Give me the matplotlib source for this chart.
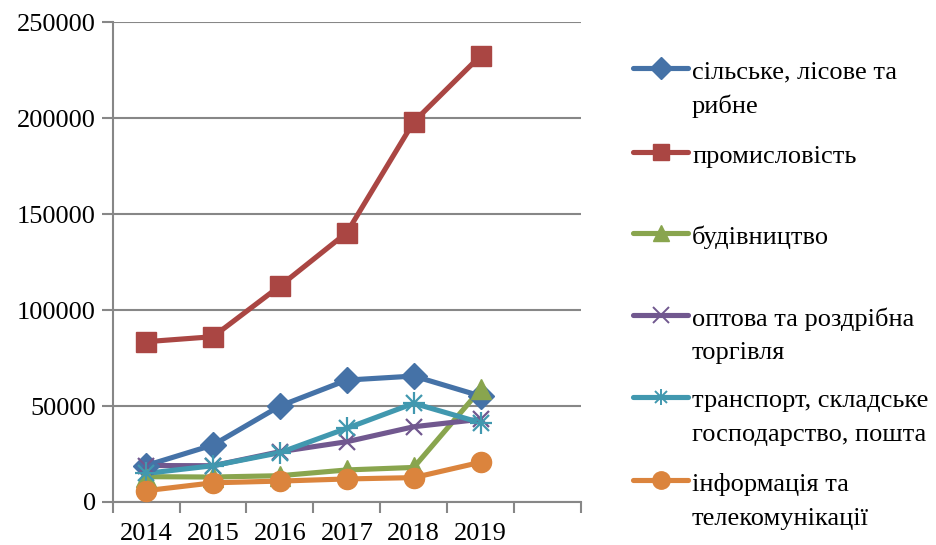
import matplotlib
matplotlib.use("Agg")
import matplotlib.pyplot as plt
from matplotlib.lines import Line2D

# Дані
years = ["2014", "2015", "2016", "2017", "2018", "2019"]
silske = [19000, 29700, 50000, 63500, 65600, 55200]
promyslovist = [83500, 86100, 112500, 140300, 198000, 232500]
budivnytstvo = [13200, 13000, 13700, 16700, 18000, 58700]
optova = [19000, 18900, 26200, 31400, 39200, 43100]
transport = [14900, 18900, 25700, 38400, 51400, 41300]
informatsiia = [5900, 10000, 10900, 12000, 12700, 20700]

labels = ["сільське, лісове та\nрибне", "промисловість", "будівництво",
          "оптова та роздрібна\nторгівля", "транспорт, складське\nгосподарство, пошта",
          "інформація та\nтелекомунікації"]

# Стиль
COLORS = ["#4572A7", "#AA4643", "#89A54E", "#71588F", "#4198AF", "#DB843D"]
MARKERS = [("D", 13), ("s", 14), ("^", 14), ("x", 12), ("*", 0), ("o", 14.5)]
GRID = "#878787"
LW = 3.7

plt.rcParams["font.family"] = ["Liberation Serif", "DejaVu Serif"]

fig = plt.figure(figsize=(9.36, 5.45), dpi=100)
ax = fig.add_axes([0.1204, 0.0789, 0.5003, 0.8807])

series = [silske, promyslovist, budivnytstvo, optova, transport, informatsiia]
x = list(range(len(years)))


def draw_marker(axis, xs, ys, color, marker, size):
    if marker == "*":
        # зірочка Excel: хрест + плюс
        axis.plot(xs, ys, linestyle="none", marker="x", markersize=12,
                  mec=color, mew=1.6, zorder=4)
        axis.plot(xs, ys, linestyle="none", marker="+", markersize=16,
                  mec=color, mew=1.6, zorder=4)
    elif marker == "x":
        axis.plot(xs, ys, linestyle="none", marker="x", markersize=size,
                  mec=color, mew=1.6, zorder=4)
    else:
        axis.plot(xs, ys, linestyle="none", marker=marker, markersize=size,
                  mfc=color, mec=color, zorder=4)


for vals, col, (mk, ms) in zip(series, COLORS, MARKERS):
    ax.plot(x, vals, color=col, linewidth=LW, solid_capstyle="round",
            solid_joinstyle="round", zorder=3)
    draw_marker(ax, x, vals, col, mk, ms)

ax.set_xlim(-0.5, 6.5)
ax.set_ylim(0, 250000)
ax.set_yticks(range(0, 250001, 50000))
ax.set_yticklabels([str(v) for v in range(0, 250001, 50000)], fontsize=19)
ax.grid(True, axis="y", color=GRID, linewidth=1.5, zorder=1)

ax.set_xticks([i - 0.5 for i in range(8)])
ax.set_xticklabels([])
ax.set_xticks(x, minor=True)
ax.set_xticklabels(years, minor=True, fontsize=19)
ax.tick_params(axis="x", which="minor", length=0, pad=15)
ax.tick_params(axis="x", which="major", length=8, width=1.5, color=GRID)
ax.tick_params(axis="y", length=8, width=1.5, color=GRID, pad=4)

for side in ["top", "right"]:
    ax.spines[side].set_visible(False)
for side in ["left", "bottom"]:
    ax.spines[side].set_color(GRID)
    ax.spines[side].set_linewidth(1.5)

# Легенда вручну (маркер на рівні першого рядка)
W, H = 936, 545
ys_leg = [68, 152, 233, 315, 397, 480]
for yp, col, (mk, ms), lab in zip(ys_leg, COLORS, MARKERS, labels):
    yf = 1 - yp / H
    fig.add_artist(Line2D([633 / W, 688 / W], [yf, yf], color=col,
                          linewidth=LW, solid_capstyle="round"))
    if mk == "*":
        fig.add_artist(Line2D([660.5 / W], [yf], marker="x", markersize=9,
                              mec=col, mew=1.4, linestyle="none"))
        fig.add_artist(Line2D([660.5 / W], [yf], marker="+", markersize=12,
                              mec=col, mew=1.4, linestyle="none"))
    elif mk == "x":
        fig.add_artist(Line2D([660.5 / W], [yf], marker="x", markersize=11,
                              mec=col, mew=1.4, linestyle="none"))
    else:
        fig.add_artist(Line2D([660.5 / W], [yf], marker=mk, markersize=ms - 2,
                              mfc=col, mec=col, linestyle="none"))
    for k, line in enumerate(lab.split("\n")):
        fig.text(692 / W, 1 - (yp + 2 + 34 * k) / H, line, fontsize=19,
                 va="center_baseline", ha="left")

fig.savefig("out.png", dpi=100)
